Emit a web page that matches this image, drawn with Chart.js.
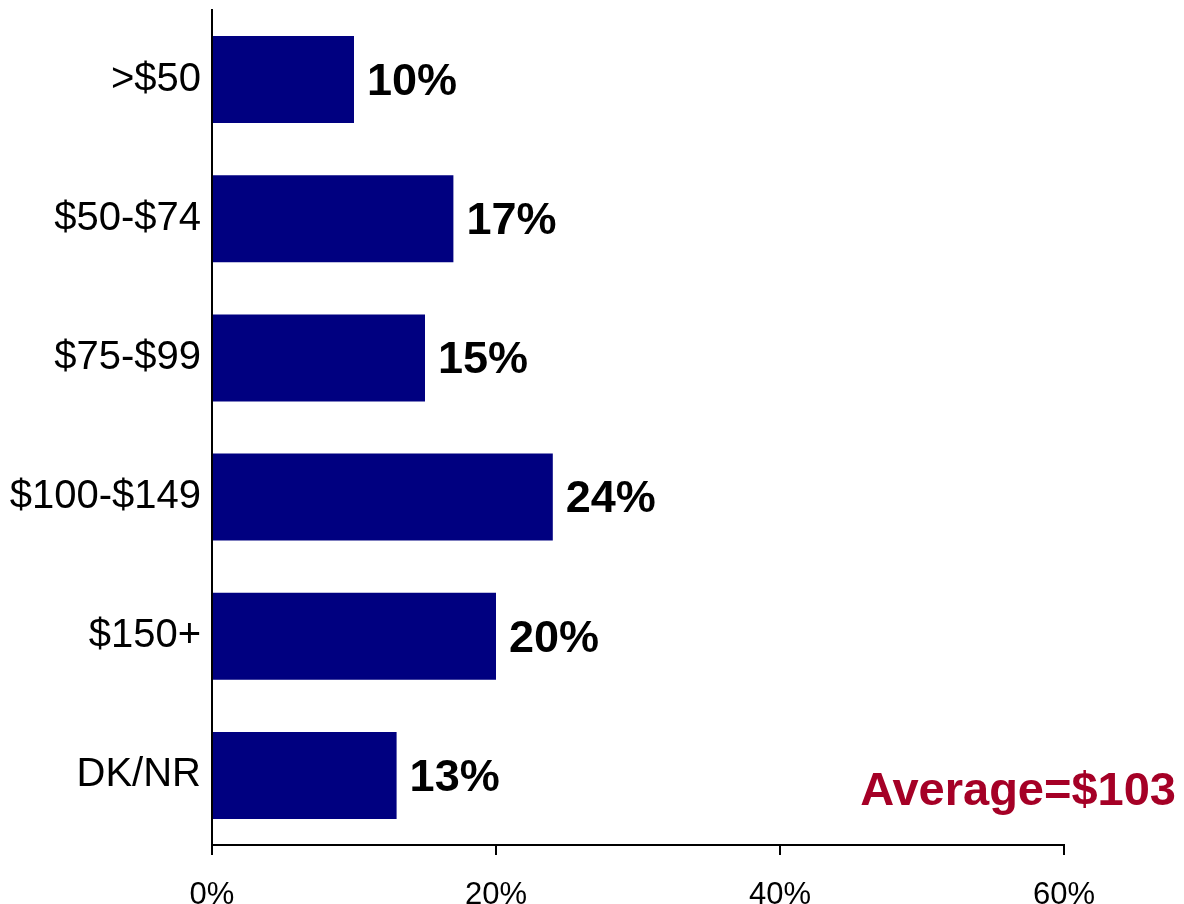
<!DOCTYPE html>
<html>
<head>
<meta charset="utf-8">
<script src="https://cdn.jsdelivr.net/npm/chart.js@4/dist/chart.umd.min.js"></script>
<style>
html,body{margin:0;padding:0;background:#fff;overflow:hidden;}
#wrap{width:1184px;height:904px;position:relative;}
</style>
</head>
<body>
<div id="wrap"><canvas id="c" width="1184" height="904"></canvas></div>
<script>
const categories = [">$50", "$50-$74", "$75-$99", "$100-$149", "$150+", "DK/NR"];
const shares = [10, 17, 15, 24, 20, 13];
const valueLabels = ["10%", "17%", "15%", "24%", "20%", "13%"];
const xTicks = [0, 20, 40, 60];
const averageNote = "Average=$103";

const FONT = '"Liberation Sans", Arial, Helvetica, sans-serif';

const labelPlugin = {
  id: 'labels',
  afterDatasetsDraw(chart) {
    const ctx = chart.ctx;
    const meta = chart.getDatasetMeta(0);
    ctx.save();
    ctx.fillStyle = '#000';
    ctx.font = 'bold 45px ' + FONT;
    ctx.textAlign = 'left';
    ctx.textBaseline = 'middle';
    meta.data.forEach((bar, i) => {
      ctx.fillText(valueLabels[i], bar.x + 13, bar.y + 3);
    });
    ctx.restore();
  },
  afterDraw(chart) {
    const ctx = chart.ctx;
    ctx.save();
    ctx.fillStyle = '#A50026';
    ctx.font = 'bold 47px ' + FONT;
    ctx.textAlign = 'right';
    ctx.textBaseline = 'alphabetic';
    ctx.fillText(averageNote, 1176, 805);
    ctx.restore();
  }
};

new Chart(document.getElementById('c'), {
  type: 'bar',
  data: {
    labels: categories,
    datasets: [{
      data: shares,
      backgroundColor: '#000080',
      borderWidth: 0,
      barPercentage: 0.625,
      categoryPercentage: 1.0
    }]
  },
  options: {
    indexAxis: 'y',
    responsive: false,
    devicePixelRatio: 1,
    animation: false,
    layout: { padding: { top: 10, right: 120, left: 0, bottom: 0 } },
    plugins: { legend: { display: false }, tooltip: { enabled: false } },
    scales: {
      x: {
        min: 0, max: 60,
        afterBuildTicks(scale) { scale.ticks = xTicks.map(v => ({ value: v })); },
        afterFit(scale) { scale.height = 59; scale.paddingLeft = 0; scale.paddingRight = 0; },
        grid: { display: true, drawOnChartArea: false, drawTicks: true, tickLength: 10, color: '#000', lineWidth: 2 },
        border: { display: true, color: '#000', width: 2 },
        ticks: {
          color: '#000',
          font: { family: FONT, size: 31 },
          padding: 22,
          maxRotation: 0,
          callback: (v) => v + '%'
        }
      },
      y: {
        afterFit(scale) { scale.width = 212; scale.paddingTop = 0; scale.paddingBottom = 0; },
        grid: { display: false },
        border: { display: true, color: '#000', width: 2 },
        ticks: {
          color: '#000',
          font: { family: FONT, size: 40 },
          padding: 3
        }
      }
    }
  },
  plugins: [labelPlugin]
});
</script>
</body>
</html>
